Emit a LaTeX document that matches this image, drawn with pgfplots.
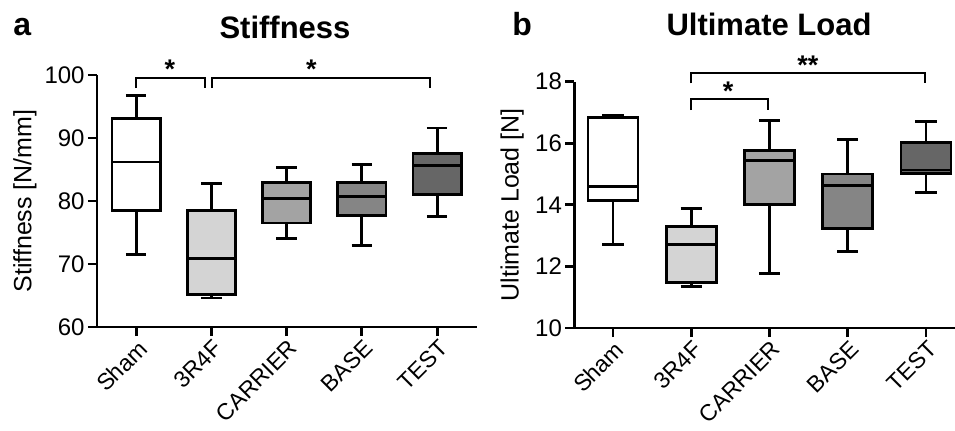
\documentclass[border=0pt]{standalone}
\usepackage{fontspec}
\setmainfont{Liberation Sans}
\usepackage{pgfplots}
\pgfplotsset{compat=1.18}
\usepgfplotslibrary{statistics}

\definecolor{gsham}{HTML}{FFFFFF}
\definecolor{gcig}{HTML}{D4D4D4}
\definecolor{gcarrier}{HTML}{A3A3A3}
\definecolor{gbase}{HTML}{858585}
\definecolor{gtest}{HTML}{666666}

\pgfplotsset{
  panel/.style={
    scale only axis,
    axis x line*=bottom, axis y line*=left,
    axis line style={line width=1.4pt},
    tick style={line width=1.4pt, black},
    major tick length=4.5pt, tick align=outside,
    xtick={0,1,2,3,4},
    xticklabels={Sham,3R4F,CARRIER,BASE,TEST},
    x tick label style={rotate=45, anchor=north east, inner sep=0pt,
      yshift=-1pt, xshift=-0.5pt, font=\fontsize{11.5}{12}\selectfont},
    y tick label style={inner sep=1.5pt, font=\fontsize{12}{13}\selectfont},
    /pgf/number format/assume math mode=true,
    label style={font=\fontsize{12.5}{14}\selectfont},
    clip=false,
    boxplot/draw direction=y,
  },
  bx/.style={draw=black, line width=1.4pt, fill=#1,
    boxplot/box extend=0.64, boxplot/whisker extend=0.27},
  sig/.style={black, line width=1pt, sharp plot, forget plot},
}

\begin{document}
\begin{tikzpicture}
\useasboundingbox (0,0) rectangle (477.5pt,215pt);

% --- a: Stiffness ---------------------------------------------------------
\begin{axis}[panel, at={(48.5pt,51.5pt)}, anchor=south west,
  width=190pt, height=126pt,
  xmin=-0.52, xmax=4.53, ymin=60, ymax=100,
  ytick={60,70,80,90,100},
  ylabel={Stiffness [N/mm]},
  ylabel style={at={(axis description cs:-0.19,0.5)}, anchor=center},
]
\addplot[bx=gsham, boxplot prepared={draw position=0,
  lower whisker=71.5, lower quartile=78.5, median=86.2,
  upper quartile=93.1, upper whisker=96.8}] coordinates {};
\addplot[bx=gcig, boxplot prepared={draw position=1,
  lower whisker=64.6, lower quartile=65.1, median=70.9,
  upper quartile=78.5, upper whisker=82.75}] coordinates {};
\addplot[bx=gcarrier, boxplot prepared={draw position=2,
  lower whisker=74.1, lower quartile=76.5, median=80.4,
  upper quartile=82.9, upper whisker=85.3}] coordinates {};
\addplot[bx=gbase, boxplot prepared={draw position=3,
  lower whisker=72.9, lower quartile=77.7, median=80.7,
  upper quartile=83.0, upper whisker=85.8}] coordinates {};
\addplot[bx=gtest, boxplot prepared={draw position=4,
  lower whisker=77.5, lower quartile=81.0, median=85.6,
  upper quartile=87.5, upper whisker=91.6}] coordinates {};

% brackets
\addplot[sig] coordinates {(0,97.9) (0,99.6) (0.91,99.6) (0.91,97.9)};
\addplot[sig] coordinates {(1.01,97.9) (1.01,99.6) (3.9,99.6) (3.9,97.9)};
\node[font=\bfseries\fontsize{13.5}{14}\selectfont] at (axis cs:0.45,100.9) {*};
\node[font=\bfseries\fontsize{13.5}{14}\selectfont] at (axis cs:2.33,100.9) {*};
\end{axis}

% --- b: Ultimate Load -----------------------------------------------------
\begin{axis}[panel, at={(287.15pt,51pt)}, anchor=south west,
  width=190.35pt, height=123.15pt,
  xmin=-0.495, xmax=4.37, ymin=10, ymax=18,
  ytick={10,12,14,16,18},
  ylabel={Ultimate Load [N]},
  ylabel style={at={(axis description cs:-0.163,0.5)}, anchor=center},
]
\addplot[bx=gsham, boxplot prepared={draw position=0,
  lower whisker=12.72, lower quartile=14.13, median=14.59,
  upper quartile=16.84, upper whisker=16.89}] coordinates {};
\addplot[bx=gcig, boxplot prepared={draw position=1,
  lower whisker=11.34, lower quartile=11.47, median=12.70,
  upper quartile=13.29, upper whisker=13.88}] coordinates {};
\addplot[bx=gcarrier, boxplot prepared={draw position=2,
  lower whisker=11.76, lower quartile=14.0, median=15.45,
  upper quartile=15.76, upper whisker=16.73}] coordinates {};
\addplot[bx=gbase, boxplot prepared={draw position=3,
  lower whisker=12.48, lower quartile=13.22, median=14.62,
  upper quartile=15.0, upper whisker=16.11}] coordinates {};
\addplot[bx=gtest, boxplot prepared={draw position=4,
  lower whisker=14.40, lower quartile=15.02, median=15.13,
  upper quartile=16.02, upper whisker=16.70}] coordinates {};

% brackets
\addplot[sig] coordinates {(1,17.95) (1,18.29) (3.99,18.29) (3.99,17.95)};
\addplot[sig] coordinates {(1,17.08) (1,17.43) (1.98,17.43) (1.98,17.08)};
\node[font=\bfseries\fontsize{13.5}{14}\selectfont] at (axis cs:2.49,18.55) {**};
\node[font=\bfseries\fontsize{13.5}{14}\selectfont] at (axis cs:1.47,17.68) {*};
\end{axis}

% titles and panel letters
\node[anchor=base, font=\bfseries\fontsize{15.5}{18}\selectfont] at (142.5pt,196pt) {Stiffness};
\node[anchor=base, font=\bfseries\fontsize{15.5}{18}\selectfont] at (384.5pt,197.5pt) {Ultimate Load};
\node[anchor=base west, inner sep=0pt, font=\bfseries\fontsize{16}{18}\selectfont] at (6.5pt,197.5pt) {a};
\node[anchor=base west, inner sep=0pt, font=\bfseries\fontsize{16}{18}\selectfont] at (256pt,197.5pt) {b};
\end{tikzpicture}
\end{document}
